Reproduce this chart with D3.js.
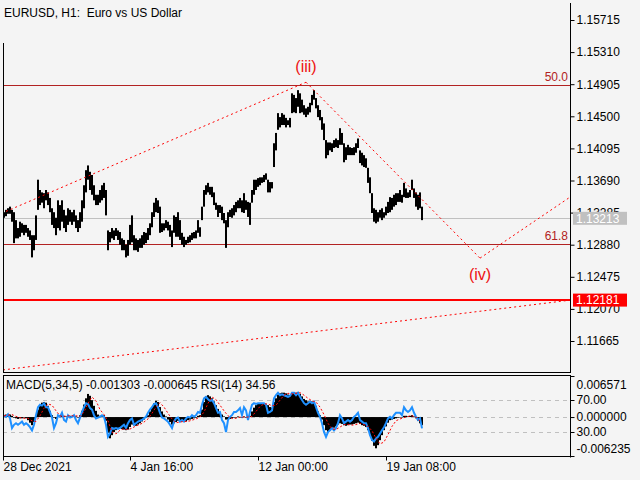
<!DOCTYPE html>
<html><head><meta charset="utf-8">
<script src="https://cdn.jsdelivr.net/npm/d3@7"></script>
<style>body{margin:0;background:#f4f4f4}svg{display:block}text{font-family:"Liberation Sans",Arial,sans-serif}</style>
</head><body><svg id="c" width="640" height="480"></svg>
<script>
// ---- data (2-hour bars) ----
const high = [1.1329,1.1332,1.1334,1.1336,1.1332,1.1329,1.1319,1.1309,1.1317,1.1315,
1.1313,1.1313,1.1309,1.1306,1.1300,1.1300,1.1325,1.1370,1.1357,1.1354,
1.1353,1.1357,1.1354,1.1347,1.1334,1.1329,1.1322,1.1344,1.1338,1.1344,
1.1332,1.1325,1.1334,1.1332,1.1329,1.1332,1.1325,1.1319,1.1329,1.1344,
1.1363,1.1382,1.1388,1.1380,1.1376,1.1363,1.1351,1.1351,1.1357,1.1363,
1.1366,1.1357,1.1306,1.1304,1.1309,1.1306,1.1309,1.1306,1.1304,1.1296,
1.1294,1.1288,1.1294,1.1313,1.1325,1.1300,1.1296,1.1294,1.1296,1.1300,
1.1304,1.1303,1.1309,1.1315,1.1329,1.1341,1.1347,1.1344,1.1336,1.1315,
1.1315,1.1319,1.1317,1.1313,1.1306,1.1325,1.1323,1.1329,1.1319,1.1303,
1.1298,1.1294,1.1298,1.1300,1.1303,1.1304,1.1306,1.1319,1.1310,1.1336,
1.1357,1.1363,1.1366,1.1361,1.1361,1.1354,1.1341,1.1338,1.1338,1.1336,
1.1328,1.1319,1.1329,1.1332,1.1334,1.1338,1.1342,1.1344,1.1347,1.1344,
1.1353,1.1344,1.1342,1.1341,1.1357,1.1370,1.1370,1.1372,1.1373,1.1373,
1.1376,1.1378,1.1370,1.1367,1.1367,1.1416,1.1429,1.1454,1.1449,1.1454,
1.1452,1.1448,1.1445,1.1448,1.1479,1.1477,1.1473,1.1483,1.1479,1.1471,
1.1464,1.1460,1.1462,1.1467,1.1477,1.1483,1.1473,1.1464,1.1458,1.1449,
1.1441,1.1420,1.1417,1.1417,1.1416,1.1420,1.1422,1.1420,1.1435,1.1429,
1.1416,1.1411,1.1414,1.1411,1.1410,1.1411,1.1416,1.1422,1.1407,1.1404,
1.1401,1.1397,1.1385,1.1373,1.1353,1.1334,1.1332,1.1329,1.1332,1.1334,
1.1329,1.1336,1.1342,1.1348,1.1347,1.1351,1.1353,1.1353,1.1357,1.1351,
1.1366,1.1359,1.1354,1.1357,1.1370,1.1359,1.1354,1.1351,1.1354,1.1336];
const low = [1.1322,1.1324,1.1327,1.1327,1.1317,1.1290,1.1296,1.1296,1.1298,1.1303,
1.1300,1.1303,1.1298,1.1294,1.1272,1.1281,1.1294,1.1332,1.1338,1.1341,
1.1334,1.1344,1.1338,1.1329,1.1313,1.1309,1.1300,1.1309,1.1306,1.1317,
1.1309,1.1304,1.1313,1.1317,1.1313,1.1317,1.1309,1.1304,1.1309,1.1317,
1.1334,1.1354,1.1370,1.1357,1.1351,1.1344,1.1338,1.1338,1.1341,1.1344,
1.1347,1.1325,1.1281,1.1291,1.1296,1.1294,1.1299,1.1294,1.1288,1.1281,
1.1281,1.1272,1.1274,1.1288,1.1291,1.1281,1.1281,1.1279,1.1284,1.1284,
1.1288,1.1290,1.1294,1.1300,1.1310,1.1323,1.1329,1.1328,1.1303,1.1304,
1.1306,1.1309,1.1306,1.1298,1.1285,1.1303,1.1298,1.1298,1.1294,1.1288,
1.1285,1.1288,1.1290,1.1291,1.1294,1.1296,1.1296,1.1303,1.1298,1.1319,
1.1336,1.1351,1.1354,1.1351,1.1348,1.1338,1.1332,1.1323,1.1328,1.1319,
1.1315,1.1284,1.1310,1.1323,1.1322,1.1325,1.1329,1.1334,1.1334,1.1329,
1.1328,1.1332,1.1323,1.1313,1.1341,1.1351,1.1357,1.1361,1.1363,1.1366,
1.1367,1.1370,1.1354,1.1354,1.1359,1.1386,1.1407,1.1433,1.1436,1.1439,
1.1439,1.1436,1.1439,1.1436,1.1454,1.1455,1.1454,1.1462,1.1454,1.1455,
1.1452,1.1449,1.1452,1.1455,1.1464,1.1471,1.1460,1.1449,1.1445,1.1433,
1.1420,1.1397,1.1401,1.1407,1.1405,1.1410,1.1411,1.1410,1.1414,1.1414,
1.1392,1.1395,1.1401,1.1401,1.1401,1.1401,1.1404,1.1410,1.1391,1.1388,
1.1386,1.1385,1.1366,1.1353,1.1328,1.1317,1.1315,1.1317,1.1322,1.1319,
1.1322,1.1325,1.1328,1.1329,1.1332,1.1336,1.1338,1.1342,1.1342,1.1341,
1.1348,1.1347,1.1347,1.1348,1.1357,1.1347,1.1336,1.1332,1.1334,1.1319];
const macd = [0.0003,0.0004,0.0005,0.0004,0.0002,-0.0001,-0.0002,-0.0003,-0.0002,-0.0002,
-0.0001,-0.0002,-0.0005,-0.0009,-0.0013,-0.0008,0.0002,0.0012,0.0019,0.0023,
0.0024,0.0023,0.0018,0.0010,0.0003,-0.0001,-0.0003,0.0001,0.0002,0.0003,
0.0002,0.0001,0.0002,0.0002,0.0001,0.0002,0.0001,0.0000,0.0003,0.0010,
0.0020,0.0030,0.0037,0.0034,0.0027,0.0018,0.0010,0.0004,0.0002,0.0002,
0.0003,-0.0006,-0.0025,-0.0034,-0.0029,-0.0024,-0.0021,-0.0019,-0.0018,-0.0019,
-0.0020,-0.0021,-0.0020,-0.0016,-0.0012,-0.0013,-0.0014,-0.0012,-0.0010,-0.0007,
-0.0004,-0.0001,0.0003,0.0009,0.0016,0.0022,0.0026,0.0024,0.0016,0.0009,
0.0004,0.0001,-0.0004,-0.0008,-0.0012,-0.0010,-0.0008,-0.0006,-0.0006,-0.0007,
-0.0008,-0.0007,-0.0005,-0.0004,-0.0003,-0.0002,-0.0001,0.0002,0.0003,0.0012,
0.0024,0.0033,0.0035,0.0033,0.0030,0.0025,0.0019,0.0013,0.0008,0.0004,
0.0001,-0.0004,-0.0004,-0.0003,-0.0002,-0.0001,0.0000,0.0001,0.0000,-0.0001,
0.0001,0.0000,-0.0001,0.0002,0.0009,0.0015,0.0019,0.0021,0.0022,0.0022,
0.0022,0.0021,0.0019,0.0016,0.0015,0.0024,0.0030,0.0036,0.0038,0.0039,
0.0039,0.0038,0.0036,0.0035,0.0038,0.0040,0.0039,0.0040,0.0037,0.0033,
0.0029,0.0027,0.0025,0.0024,0.0025,0.0024,0.0018,0.0009,0.0003,-0.0004,
-0.0013,-0.0021,-0.0024,-0.0022,-0.0019,-0.0017,-0.0015,-0.0012,-0.0010,-0.0011,
-0.0013,-0.0014,-0.0013,-0.0012,-0.0012,-0.0011,-0.0010,-0.0009,-0.0011,-0.0013,
-0.0014,-0.0016,-0.0021,-0.0029,-0.0038,-0.0046,-0.0050,-0.0045,-0.0037,-0.0029,
-0.0021,-0.0015,-0.0009,-0.0005,-0.0004,-0.0003,-0.0002,-0.0001,0.0000,0.0000,
0.0002,0.0002,0.0001,0.0002,0.0003,0.0001,-0.0002,-0.0006,-0.0010,-0.001303];
// signal line, one value every second bar
const signalVals = [0.0002,0.0003,0.0004,0.0001,-0.0001,-0.0002,-0.0002,-0.0006,-0.0007,0.0002,
0.0014,0.0021,0.0019,0.0010,0.0002,0.0001,0.0002,0.0002,0.0002,0.0001,
0.0008,0.0022,0.0032,0.0026,0.0012,0.0004,-0.0006,-0.0024,-0.0027,-0.0021,
-0.0019,-0.0020,-0.0018,-0.0014,-0.0012,-0.0008,-0.0003,0.0006,0.0016,0.0023,
0.0016,0.0006,-0.0003,-0.0009,-0.0008,-0.0007,-0.0007,-0.0005,-0.0003,0.0000,
0.0008,0.0022,0.0032,0.0028,0.0019,0.0010,0.0002,-0.0002,-0.0002,0.0000,
0.0000,0.0000,0.0001,0.0009,0.0017,0.0021,0.0021,0.0018,0.0019,0.0027,
0.0035,0.0038,0.0037,0.0038,0.0039,0.0035,0.0030,0.0026,0.0024,0.0016,
0.0004,-0.0010,-0.0019,-0.0020,-0.0016,-0.0012,-0.0012,-0.0013,-0.0012,-0.0010,
-0.0012,-0.0015,-0.0022,-0.0034,-0.0043,-0.0040,-0.0028,-0.0015,-0.0006,-0.0003,
-0.0001,0.0001,0.0002,0.0000,-0.000645];
const rsi = [51,49,52,47,35,39,41,39,41,43,
39,41,39,36,32,39,51,61,64,63,
66,61,61,55,48,35,41,51,49,54,
45,43,51,48,49,51,45,41,48,55,
61,66,65,60,58,51,47,48,49,51,
49,39,24,28,35,34,35,34,35,37,
39,35,41,45,47,39,41,43,44,45,
47,49,54,58,61,65,66,61,54,48,
47,45,43,39,35,43,47,48,43,45,
43,47,49,48,51,49,51,55,54,64,
72,74,71,69,70,66,60,54,55,45,
41,30,45,49,51,55,55,57,60,51,
61,57,45,55,64,66,65,66,66,66,
66,64,54,55,57,72,76,79,76,77,
76,75,74,75,79,79,76,79,74,70,
66,64,66,68,66,68,61,54,49,41,
30,24,30,32,35,32,35,41,51,47,
41,43,45,43,45,49,51,54,45,43,
41,41,35,26,20,18,22,24,28,32,
36,41,47,49,47,51,54,54,54,51,
61,57,55,57,61,54,49,45,47,34.56];
const priceTicks = [1.15715,1.15310,1.14905,1.14500,1.14095,1.13690,1.13285,1.12880,1.12475,1.12070,1.11665];
const timeTicks = [0,63.5,127.5,191.5];
const timeLabels = ["28 Dec 2021","4 Jan 16:00","12 Jan 00:00","19 Jan 08:00"];
const macdTicks = [0.006571,0.000000,-0.006235];
const rsiLevels = [70,30];
const fibLevels = [{label:"50.0",price:1.1490},{label:"61.8",price:1.12888}];
const supportPrice = 1.12181;
const lastPrice = 1.13213;
const trendLines = [
  [[1.5,1.1330],[151.5,1.1493]],
  [[151.5,1.1493],[238.5,1.1271]],
  [[238.5,1.1271],[283.5,1.1348]],
  [[0,1.1130],[283.5,1.1218]]];
const waveLabels = [{text:"(iii)",i:151.5,price:1.1493,dy:-10},{text:"(iv)",i:238.5,price:1.1271,dy:22}];

// ---- drawing ----
const FONT = '"Liberation Sans",Arial,sans-serif';
const svg = d3.select("#c");
svg.append("rect").attr("width",640).attr("height",480).attr("fill","#f4f4f4");
const L=3, R=570, mainBot=372.5, subTop=375.5, subBot=456.5;
const x = d3.scaleLinear().domain([0,283.5]).range([L,R]);
const yP = d3.scaleLinear().domain([1.11665,1.15715]).range([341,20]);
const yM = d3.scaleLinear().domain([-0.006235,0.006571]).range([456,376]);
const yR = d3.scaleLinear().domain([0,100]).range([456,376]);

const defs = svg.append("defs");
defs.append("clipPath").attr("id","cm").append("rect").attr("x",L).attr("y",3).attr("width",R-L).attr("height",mainBot-3);
defs.append("clipPath").attr("id","cs").append("rect").attr("x",L).attr("y",subTop).attr("width",R-L).attr("height",subBot-subTop);

const gm = svg.append("g").attr("clip-path","url(#cm)");
// horizontal levels
gm.append("line").attr("x1",L).attr("x2",R).attr("y1",Math.round(yP(lastPrice))+0.5).attr("y2",Math.round(yP(lastPrice))+0.5).attr("stroke","#c0c0c0");
fibLevels.forEach(f=>{
  const yy=Math.round(yP(f.price))+0.5;
  gm.append("line").attr("x1",L).attr("x2",R).attr("y1",yy).attr("y2",yy).attr("stroke","#b22222");
});
gm.append("line").attr("x1",L).attr("x2",R).attr("y1",yP(supportPrice)).attr("y2",yP(supportPrice)).attr("stroke","#ff0000").attr("stroke-width",2);
// price bars
gm.selectAll("rect.bar").data(high).join("rect").attr("class","bar")
  .attr("x",(d,i)=>x(i)).attr("width",x(1)-x(0))
  .attr("y",d=>yP(d)).attr("height",(d,i)=>Math.max(1,yP(low[i])-yP(d))).attr("fill","#000");
// trend lines
const tl = d3.line().x(d=>x(d[0])).y(d=>yP(d[1]));
trendLines.forEach(t=>gm.append("path").attr("d",tl(t)).attr("fill","none").attr("stroke","#ff0000").attr("stroke-dasharray","2,3"));
// fib labels
fibLevels.forEach(f=>{
  svg.append("text").attr("x",568).attr("y",yP(f.price)-4).attr("text-anchor","end").attr("font-size",12).attr("font-family",FONT).attr("fill","#b22222").text(f.label);
});
waveLabels.forEach(w=>{
  svg.append("text").attr("x",x(w.i)).attr("y",yP(w.price)+w.dy).attr("text-anchor","middle").attr("font-size",16).attr("font-family",FONT).attr("fill","#ee1111").text(w.text);
});

// sub window
const gs = svg.append("g").attr("clip-path","url(#cs)");
[yR(70),yM(0),yR(30)].forEach(yy=>{
  gs.append("line").attr("x1",L).attr("x2",R).attr("y1",Math.round(yy)+0.5).attr("y2",Math.round(yy)+0.5).attr("stroke","#c0c0c0").attr("stroke-dasharray","4,4");
});
gs.selectAll("rect.h").data(macd).join("rect").attr("class","h")
  .attr("x",(d,i)=>x(i)).attr("width",x(1)-x(0))
  .attr("y",d=>Math.min(yM(0),yM(d))).attr("height",d=>Math.max(0.5,Math.abs(yM(d)-yM(0)))).attr("fill","#000");
gs.append("path").datum(rsi).attr("d",d3.line().x((d,i)=>x(i)+1).y(d=>yR(d))).attr("fill","none").attr("stroke","#1e90ff").attr("stroke-width",2);
gs.append("path").datum(signalVals).attr("d",d3.line().x((d,j)=>x(2*j)+1).y(d=>yM(d))).attr("fill","none").attr("stroke","#ff0000").attr("stroke-dasharray","2,2");

// frames
const fr = svg.append("g").attr("stroke","#000").attr("fill","none");
fr.append("line").attr("x1",L+0.5).attr("x2",L+0.5).attr("y1",43).attr("y2",mainBot);
fr.append("line").attr("x1",R+0.5).attr("x2",R+0.5).attr("y1",3).attr("y2",mainBot);
fr.append("line").attr("x1",L).attr("x2",R+1).attr("y1",mainBot).attr("y2",mainBot);
fr.append("rect").attr("x",L+0.5).attr("y",subTop).attr("width",R-L).attr("height",subBot-subTop);

// price axis
const ap = svg.append("g").attr("transform",`translate(${R+0.5},0)`)
  .call(d3.axisRight(yP).tickValues(priceTicks).tickFormat(d3.format(".5f")).tickSize(4).tickPadding(2));
ap.select(".domain").remove();
ap.attr("font-size",12).attr("font-family",FONT);
ap.selectAll("text").attr("fill","#000");
ap.selectAll("line").attr("stroke","#000");
// price tags
function tag(p,bg,fg){
  const yy=yP(p);
  svg.append("rect").attr("x",573).attr("y",yy-6.5).attr("width",54).attr("height",13).attr("fill",bg);
  svg.append("text").attr("x",576).attr("y",yy+4.3).attr("font-size",12).attr("font-family",FONT).attr("fill",fg).text(d3.format(".5f")(p));
}
tag(lastPrice,"#c0c0c0","#ffffff");
tag(supportPrice,"#ff0000","#ffffff");

// sub axis
const am = svg.append("g").attr("transform",`translate(${R+0.5},0)`)
  .call(d3.axisRight(yM).tickValues(macdTicks).tickFormat(d3.format(".6f")).tickSize(4).tickPadding(2));
am.select(".domain").remove();
am.attr("font-size",12).attr("font-family",FONT);
am.selectAll("text").attr("fill","#000").attr("dy",d=>d===macdTicks[0]?"1.0em":(d===macdTicks[2]?"-0.3em":"0.32em"))
  .text(d=>d===0?"0.000000":d3.format(".6f")(d).replace("−","-"));
am.selectAll("line").attr("stroke","#000");
const ar = svg.append("g").attr("transform",`translate(${R+0.5},0)`)
  .call(d3.axisRight(yR).tickValues(rsiLevels).tickFormat(d3.format(".2f")).tickSize(4).tickPadding(2));
ar.select(".domain").remove();
ar.attr("font-size",12).attr("font-family",FONT);
ar.selectAll("text").attr("fill","#000");
ar.selectAll("line").attr("stroke","#000");
svg.append("line").attr("x1",R+0.5).attr("x2",R+0.5).attr("y1",subTop).attr("y2",subBot+1).attr("stroke","#000");

// time axis
const at = svg.append("g").attr("transform",`translate(0,${subBot})`)
  .call(d3.axisBottom(x).tickValues(timeTicks).tickFormat((d,i)=>timeLabels[i]).tickSize(4).tickPadding(2));
at.select(".domain").remove();
at.attr("font-size",12).attr("font-family",FONT);
at.selectAll("text").attr("fill","#000").attr("text-anchor","start");
at.selectAll("line").attr("stroke","#000");

// titles
svg.append("text").attr("x",4).attr("y",17).attr("font-size",12).attr("font-family",FONT).style("white-space","pre").attr("fill","#000").text("EURUSD, H1:  Euro vs US Dollar");
svg.append("text").attr("x",6).attr("y",389).attr("font-size",12).attr("font-family",FONT).attr("fill","#000").text("MACD(5,34,5) -0.001303 -0.000645 RSI(14) 34.56");
</script></body></html>
